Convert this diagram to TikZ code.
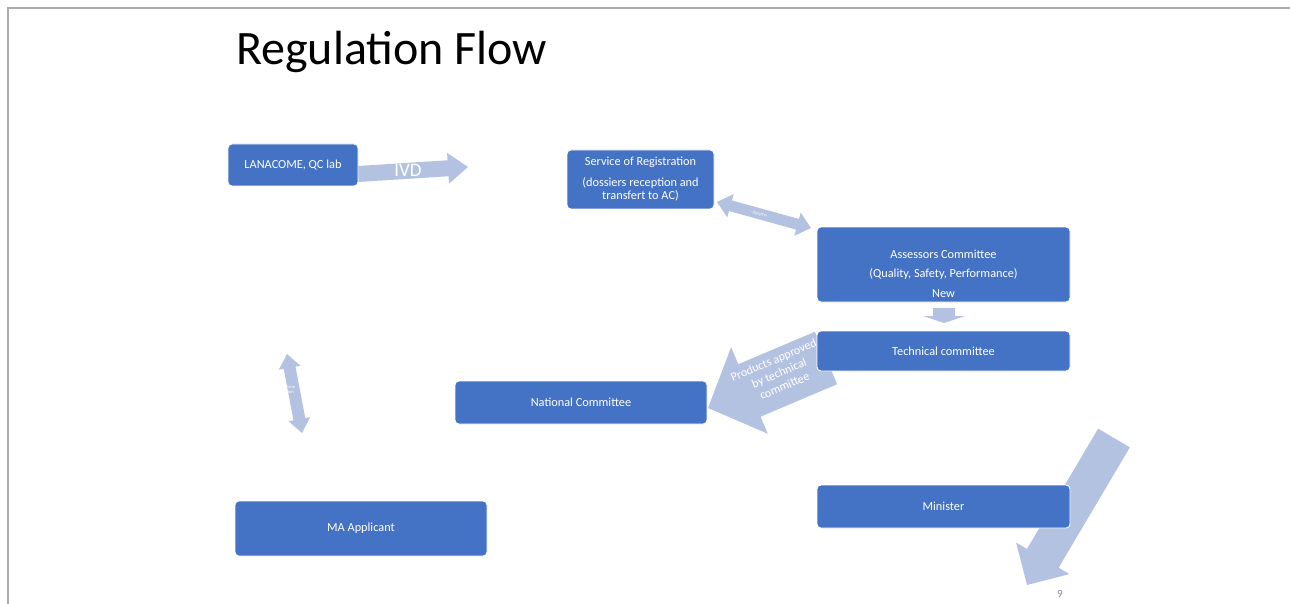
\documentclass[tikz,border=0pt]{standalone}
\usepackage{fontspec}
\setmainfont{Carlito}
\definecolor{boxblue}{HTML}{4472C4}
\definecolor{arrowblue}{HTML}{B4C2E2}
\definecolor{framegray}{HTML}{ABABAB}
\definecolor{pagegray}{HTML}{8C8C8C}
\tikzset{
  box/.style={draw=white, line width=0.8pt, fill=boxblue, rounded corners=4pt,
    text=white, font=\fontsize{12.3}{13}\selectfont, align=center, inner sep=0pt},
  blockfill/.style={fill=arrowblue},
  arrowtext/.style={text=white, align=center, inner sep=0pt},
  tinytext/.style={arrowtext, font=\fontsize{4.5}{5}\selectfont}
}
% block arrow with one head: x1,y1 (tail), x2,y2 (tip), shaft half width, head half width, head length
\newcommand\blockone[7]{%
  \pgfmathsetmacro\baang{atan2(-(#4-#2),#3-#1)}%
  \pgfmathsetmacro\balen{veclen(#3-#1,#4-#2)}%
  \pgfmathsetmacro\babase{\balen-#7}%
  \begin{scope}[shift={(#1,#2)},rotate=\baang]
    \fill[blockfill] (0,-#5) -- (\babase,-#5) -- (\babase,-#6) -- (\balen,0)
      -- (\babase,#6) -- (\babase,#5) -- (0,#5) -- cycle;
  \end{scope}}
% block arrow with a head at both ends
\newcommand\blocktwo[7]{%
  \pgfmathsetmacro\baang{atan2(-(#4-#2),#3-#1)}%
  \pgfmathsetmacro\balen{veclen(#3-#1,#4-#2)}%
  \pgfmathsetmacro\babase{\balen-#7}%
  \begin{scope}[shift={(#1,#2)},rotate=\baang]
    \fill[blockfill] (0,0) -- (#7,-#6) -- (#7,-#5) -- (\babase,-#5) -- (\babase,-#6)
      -- (\balen,0) -- (\babase,#6) -- (\babase,#5) -- (#7,#5) -- (#7,#6) -- cycle;
  \end{scope}}
\begin{document}
\begin{tikzpicture}[x=1pt,y=-1pt]
  \useasboundingbox (0,0) rectangle (1290,604);
  \fill[white] (0,0) rectangle (1290,604);
  % slide frame
  \draw[framegray, line width=1.2pt] (8,604) -- (8,8) -- (1290,8);

  % title
  \node[anchor=base west, inner sep=0pt, font=\fontsize{48}{52}\selectfont] (title) at (236,65) {Regulation Flow};

  % block arrows (behind the boxes)
  \blockone{358}{174}{468}{167}{8}{15.5}{20}
  \blocktwo{717}{202}{811}{228}{5.5}{12}{14}
  \blocktwo{287}{354}{302}{433}{6}{11}{14}
  \blockone{944}{308}{944}{323}{11}{21}{7}
  \blockone{826}{358}{708}{408}{28.5}{47}{45}
  \blockone{1114}{438}{1027}{585}{18.4}{31}{31}

  % labels on the arrows
  \node[arrowtext, font=\fontsize{19}{20}\selectfont] (ivd) at (408,170) {IVD};
  \node[tinytext, rotate=-15] (dossiers) at (760,214) {dossiers};
  \node[tinytext] (inform) at (289,389) {Inform\\ation};
  \node[arrowtext, font=\fontsize{12}{14}\selectfont, rotate=23] (approved) at (779,373)
    {Products approved\\by technical\\committee};

  % boxes
  \node[box, minimum width=130, minimum height=42] (lana) at (293,165) {LANACOME, QC lab};
  \node[box, minimum width=147, minimum height=59] (reg) at (640.5,179.5)
    {Service of Registration\\[8pt](dossiers reception and\\transfert to AC)};
  \node[box, minimum width=253, minimum height=75] (assess) at (943.5,264.5) {};
  \node[box, draw=none, fill=none, anchor=center] (assesstext) at (943.5,273.5)
    {Assessors Committee\\[6.5pt](Quality, Safety, Performance)\\[6.5pt]New};
  \node[box, minimum width=253, minimum height=40] (tech) at (943.5,351) {Technical committee};
  \node[box, minimum width=252, minimum height=43] (natl) at (581,402.5) {National Committee};
  \node[box, minimum width=252, minimum height=55] (ma) at (361,528.5) {MA Applicant};
  \node[box, minimum width=253, minimum height=43] (minister) at (943.5,506.5) {Minister};

  % page number
  \node[text=pagegray, font=\fontsize{11}{12}\selectfont, inner sep=0pt] (pagenum) at (1060,594) {9};
\end{tikzpicture}
\end{document}
